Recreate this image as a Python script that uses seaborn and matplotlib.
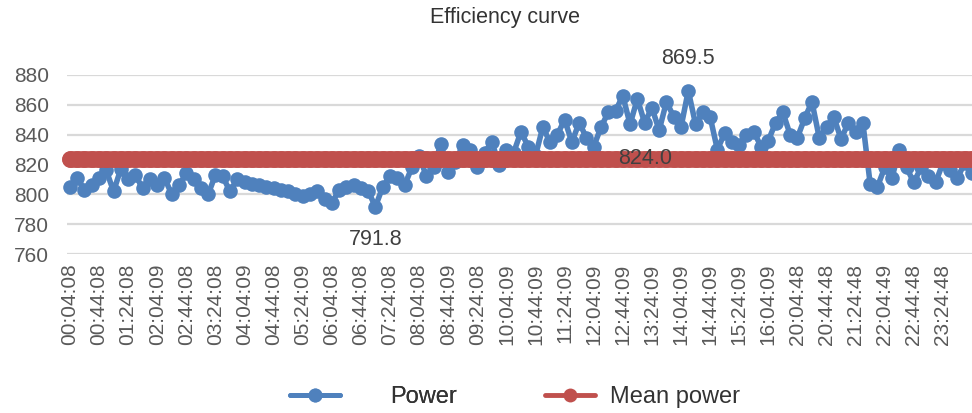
import numpy as np
import matplotlib
matplotlib.use("Agg")
import matplotlib.pyplot as plt
from matplotlib.lines import Line2D
import seaborn as sns

# Data
tick_labels = [
    "00:04:08", "00:44:08", "01:24:08", "02:04:09", "02:44:08", "03:24:08",
    "04:04:09", "04:44:08", "05:24:09", "06:04:08", "06:44:08", "07:24:08",
    "08:04:08", "08:44:09", "09:24:08", "10:04:09", "10:44:09", "11:24:09",
    "12:04:09", "12:44:09", "13:24:09", "14:04:09", "14:44:09", "15:24:09",
    "16:04:09", "20:04:48", "20:44:48", "21:24:48", "22:04:49", "22:44:48",
    "23:24:48",
]
points_per_label = 4

power = [
    805, 811, 803, 806, 811, 816, 802, 817, 810, 813,
    804, 810, 806, 811, 800, 806, 814, 810, 804, 800,
    813, 812, 802, 810, 808, 807, 806, 805, 804, 803,
    802, 800, 799, 800, 802, 797, 794, 803, 805, 806,
    804, 802, 791.8, 805, 812, 811, 806, 818, 826, 812,
    818, 834, 815, 822, 833, 830, 818, 828, 835, 820,
    830, 828, 842, 832, 826, 845, 835, 840, 850, 835,
    848, 838, 832, 845, 855, 856, 866, 847, 864, 848,
    858, 843, 862, 852, 845, 869.5, 847, 855, 852, 830,
    841, 835, 833, 840, 842, 832, 836, 848, 855, 840,
    838, 851, 862, 838, 845, 852, 837, 848, 842, 848,
    807, 805, 818, 811, 830, 818, 808, 818, 812, 808,
    821, 816, 811, 821, 814,
]
mean_power = 824.0
mean_label_index = 79

idx = np.arange(len(power))
mean_series = [mean_power] * len(power)

blue = "#4F81BD"
red = "#C0504D"
text_gray = "#595959"
label_dark = "#404040"

sns.set_style("white")
plt.rcParams["font.family"] = ["Liberation Sans", "DejaVu Sans"]

fig = plt.figure(figsize=(9.72, 4.13), dpi=100)
ax = fig.add_axes([67 / 972, 1 - 254 / 413, (972 - 67) / 972, (254 - 75) / 413])

sns.lineplot(x=idx, y=power, ax=ax, color=blue, linewidth=4, marker="o",
             markersize=10.5, markeredgewidth=0, clip_on=False, zorder=3)
sns.lineplot(x=idx, y=mean_series, ax=ax, color=red, linewidth=12, marker="o",
             markersize=12, markeredgewidth=0, clip_on=False, zorder=4)

ax.set_ylim(760, 880)
ax.set_yticks(np.arange(760, 881, 20))
ax.set_xlim(-0.4, len(power) - 1)
ax.set_xticks(np.arange(len(tick_labels)) * points_per_label)
ax.set_xticklabels(tick_labels, rotation=90)
ax.grid(axis="y", color="#D9D9D9", linewidth=1.6, zorder=0)
ax.set_axisbelow(True)
for s in ax.spines.values():
    s.set_visible(False)
ax.tick_params(axis="y", length=0, pad=13, labelsize=15, labelcolor=text_gray)
ax.tick_params(axis="x", length=0, pad=7, labelsize=15, labelcolor=text_gray)
ax.set_xlabel("")
ax.set_ylabel("")

# data labels for max, min and mean
imax = int(np.argmax(power))
imin = int(np.argmin(power))
ax.annotate(f"{power[imax]:.1f}", xy=(imax, power[imax]), xytext=(0, 23),
            textcoords="offset points", ha="center", va="center",
            fontsize=15.5, color=label_dark, annotation_clip=False)
ax.annotate(f"{power[imin]:.1f}", xy=(imin, power[imin]), xytext=(0, -24),
            textcoords="offset points", ha="center", va="center",
            fontsize=15.5, color=label_dark, annotation_clip=False)
ax.text(mean_label_index, mean_power, f"{mean_power:.1f}", ha="center",
        va="center", fontsize=15.5, color=label_dark, zorder=6)

fig.text(505 / 972, 1 - 18 / 413, "Efficiency curve", ha="center", va="center",
         fontsize=15.5, color="#333333")

# legend at the bottom
fs = 17
fs_px = fs * 100 / 72
h_power = Line2D([], [], color=blue, linewidth=3.5, marker="o", markersize=10,
                 markeredgewidth=0)
h_mean = Line2D([], [], color=red, linewidth=3.5, marker="o", markersize=10,
                markeredgewidth=0)
leg1 = fig.legend(handles=[h_power], labels=["Power"], loc="center left",
                  bbox_to_anchor=(290 / 972, 1 - 397 / 413), frameon=False,
                  borderpad=0, borderaxespad=0, fontsize=fs,
                  handlelength=50 / fs_px, handletextpad=50 / fs_px,
                  labelcolor="#333333")
leg2 = fig.legend(handles=[h_mean], labels=["Mean power"], loc="center left",
                  bbox_to_anchor=(545 / 972, 1 - 397 / 413), frameon=False,
                  borderpad=0, borderaxespad=0, fontsize=fs,
                  handlelength=50 / fs_px, handletextpad=15 / fs_px,
                  labelcolor="#333333")
fig.add_artist(leg1)

fig.savefig("out.png", dpi=100)
